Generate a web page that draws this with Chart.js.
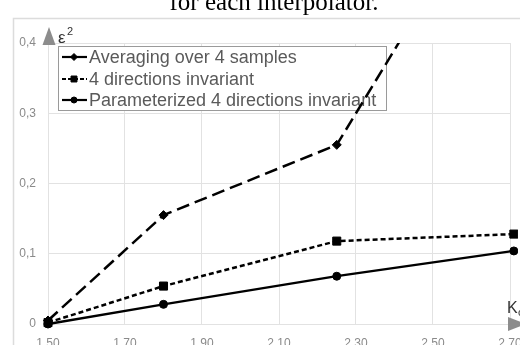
<!DOCTYPE html>
<html>
<head>
<meta charset="utf-8">
<script src="https://cdn.jsdelivr.net/npm/chart.js@4.4.0/dist/chart.umd.min.js"></script>
<style>
  html, body { margin: 0; padding: 0; background: #fff; overflow: hidden; }
  #graph { display: block; }
</style>
</head>
<body>
<canvas id="graph" width="540" height="370"></canvas>
<script>
// Valeurs
var valeursK = [1.5, 1.8, 2.25, 2.71];
var moyenne4 = [0.005, 0.155, 0.255, 0.67];
var invariant4 = [0.002, 0.054, 0.118, 0.128];
var invariantParam = [0, 0.028, 0.068, 0.104];
var ticksX = [1.5, 1.7, 1.9, 2.1, 2.3, 2.5, 2.7];
var ticksY = [0, 0.1, 0.2, 0.3, 0.4];
var nomsSeries = ["Averaging over 4 samples", "4 directions invariant", "Parameterized 4 directions invariant"];

var gris = "#8a8a8a";
// coupe en haut sur la zone du graphe, mais laisse voir les derniers points
var coupe = { left: 8, top: 0, right: 8, bottom: 8 };

// Fonction pour associer x et y
function points(ys) {
  return valeursK.map((k, i) => ({ x: k, y: ys[i] }));
}

// Cadre, titre, flèches des axes
var decor = {
  id: "decor",
  beforeDraw(chart) {
    var ctx = chart.ctx;
    ctx.save();
    ctx.strokeStyle = "#dcdcdc";
    ctx.lineWidth = 1.5;
    ctx.strokeRect(13.5, 18.5, 560, 400);
    ctx.fillStyle = "#000";
    ctx.font = "25px 'Liberation Serif'";
    ctx.textAlign = "center";
    ctx.textBaseline = "alphabetic";
    ctx.fillText("for each interpolator.", 274, 9.5);
    ctx.restore();
  },
  afterDraw(chart) {
    var ctx = chart.ctx;
    ctx.save();
    ctx.fillStyle = "#8c8c8c";
    ctx.beginPath();
    ctx.moveTo(49, 27);
    ctx.lineTo(55.5, 45);
    ctx.lineTo(42.5, 45);
    ctx.closePath();
    ctx.fill();
    ctx.beginPath();
    ctx.moveTo(508, 317);
    ctx.lineTo(526, 324);
    ctx.lineTo(508, 331);
    ctx.closePath();
    ctx.fill();

    ctx.fillStyle = "#333";
    ctx.textAlign = "left";
    ctx.textBaseline = "alphabetic";
    ctx.font = "17px 'Liberation Sans'";
    ctx.fillText("ε", 58, 43);
    ctx.font = "11px 'Liberation Sans'";
    ctx.fillText("2", 67, 35);
    ctx.font = "16px 'Liberation Sans'";
    ctx.fillText("K", 507, 313);
    ctx.font = "11px 'Liberation Sans'";
    ctx.fillText("c", 518, 316);
    ctx.restore();
  },
};

// Légende encadrée, dessinée sous les courbes
var legende = {
  id: "legende",
  beforeDatasetsDraw(chart) {
    var ctx = chart.ctx;
    ctx.save();
    ctx.fillStyle = "#fff";
    ctx.fillRect(58.5, 46.5, 328, 64);
    ctx.strokeStyle = "#9a9a9a";
    ctx.lineWidth = 1;
    ctx.strokeRect(58.5, 46.5, 328, 64);
    var lignes = [57, 79, 100];
    var tirets = [[], [4, 2], []];
    var tailles = [3.5, 4.2, 3];
    chart.data.datasets.forEach((ds, i) => {
      var y = lignes[i];
      ctx.strokeStyle = "#000";
      ctx.lineWidth = 2.2;
      ctx.setLineDash(tirets[i]);
      ctx.beginPath();
      ctx.moveTo(62, y);
      ctx.lineTo(87, y);
      ctx.stroke();
      ctx.setLineDash([]);
      ctx.fillStyle = "#000";
      ctx.lineWidth = 1;
      Chart.helpers.drawPoint(ctx, {
        pointStyle: ds.pointStyle,
        radius: tailles[i],
        rotation: 0,
        borderWidth: 1,
      }, 74, y);
      ctx.fillStyle = "#5a5a5a";
      ctx.font = "18px 'Liberation Sans'";
      ctx.textAlign = "left";
      ctx.textBaseline = "middle";
      ctx.fillText(ds.label, 89, y + 1);
    });
    ctx.restore();
  },
};

var ctx = document.getElementById("graph").getContext("2d");

var graphique = new Chart(ctx, {
  type: "line",
  data: {
    datasets: [
      {
        label: nomsSeries[0],
        data: points(moyenne4),
        borderColor: "#000",
        backgroundColor: "#000",
        borderWidth: 2.5,
        borderDash: [13, 6],
        pointStyle: "rectRot",
        pointRadius: 4.5,
        pointBorderWidth: 1,
        clip: coupe,
      },
      {
        label: nomsSeries[1],
        data: points(invariant4),
        borderColor: "#000",
        backgroundColor: "#000",
        borderWidth: 2.5,
        borderDash: [5, 3],
        pointStyle: "rect",
        pointRadius: 5.7,
        pointBorderWidth: 1,
        clip: coupe,
      },
      {
        label: nomsSeries[2],
        data: points(invariantParam),
        borderColor: "#000",
        backgroundColor: "#000",
        borderWidth: 2.3,
        pointStyle: "circle",
        pointRadius: 4,
        pointBorderWidth: 1,
        clip: coupe,
      },
    ],
  },
  options: {
    responsive: false,
    animation: false,
    layout: { padding: { left: 0, top: 43, right: 30, bottom: 0 } },
    plugins: {
      legend: { display: false },
      tooltip: { enabled: false },
    },
    scales: {
      x: {
        type: "linear",
        min: 1.5,
        max: 2.7,
        border: { display: false },
        grid: { color: "#e2e2e2", lineWidth: 1, drawTicks: false },
        afterBuildTicks: (scale) => {
          scale.ticks = ticksX.map((v) => ({ value: v }));
        },
        afterFit: (scale) => {
          scale.height = 46;
        },
        ticks: {
          color: gris,
          font: { family: "'Liberation Sans'", size: 12 },
          padding: 12,
          maxRotation: 0,
          autoSkip: false,
          callback: (v) => v.toFixed(2),
        },
      },
      y: {
        min: 0,
        max: 0.4,
        border: { display: false },
        grid: { color: "#e2e2e2", lineWidth: 1, drawTicks: false },
        afterBuildTicks: (scale) => {
          scale.ticks = ticksY.map((v) => ({ value: v }));
        },
        afterFit: (scale) => {
          scale.width = 48;
        },
        ticks: {
          color: gris,
          font: { family: "'Liberation Sans'", size: 12 },
          padding: 12,
          callback: (v) => (v === 0 ? "0" : v.toFixed(1).replace(".", ",")),
        },
      },
    },
  },
  plugins: [decor, legende],
});
</script>
</body>
</html>
